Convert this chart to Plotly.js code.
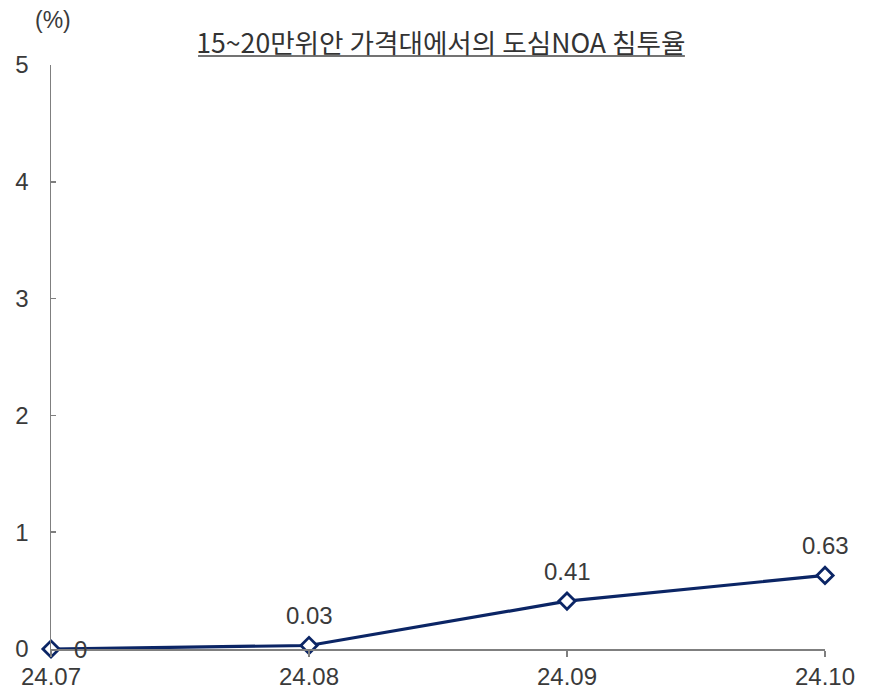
<!DOCTYPE html>
<html>
<head>
<meta charset="utf-8">
<script src="https://cdn.plot.ly/plotly-3.0.1.min.js"></script>
<style>
  html, body { margin: 0; padding: 0; background: #ffffff; }
  #chart { width: 873px; height: 689px; }
</style>
</head>
<body>
<div id="chart"></div>
<script>
// 월별 도심 NOA 침투율 (%)
const months = ['24.07', '24.08', '24.09', '24.10'];
const penetration = [0, 0.03, 0.41, 0.63];
const valueLabels = ['0', '0.03', '0.41', '0.63'];
const yTicks = [0, 1, 2, 3, 4, 5];

const navy = '#0b2565';
const axisGray = '#7f7f7f';
const textGray = '#3a3a3a';

const xIdx = months.map((m, i) => i);

const trace = {
  x: xIdx,
  y: penetration,
  type: 'scatter',
  mode: 'lines+markers',
  line: { color: navy, width: 3.2 },
  marker: { symbol: 'diamond', size: 12.5, color: '#ffffff', line: { color: navy, width: 2.8 } },
  cliponaxis: false,
  hoverinfo: 'skip'
};

// 값 라벨: 첫 점은 오른쪽, 나머지는 점 위쪽
const valueAnnotations = penetration.map((v, i) => ({
  x: xIdx[i], y: v, xref: 'x', yref: 'y',
  text: valueLabels[i],
  showarrow: false,
  xanchor: 'center', yanchor: 'middle',
  xshift: i === 0 ? 29 : 0,
  yshift: i === 0 ? 0 : 30,
  font: { size: 24, color: textGray }
}));

const layout = {
  width: 873,
  height: 689,
  margin: { l: 51, r: 48, t: 65, b: 40 },
  paper_bgcolor: '#ffffff',
  plot_bgcolor: '#ffffff',
  showlegend: false,
  font: { family: 'Liberation Sans, Arial, sans-serif', size: 24, color: textGray },
  title: {
    text: '15~20만위안 가격대에서의 도심NOA 침투율',
    font: { family: 'Noto Sans CJK KR, sans-serif', size: 26.6, color: '#333333' },
    x: 0.505, xanchor: 'center', xref: 'container',
    y: 0.936, yref: 'container', yanchor: 'middle'
  },
  xaxis: {
    range: [0, 3],
    tickmode: 'array',
    tickvals: xIdx,
    ticktext: months,
    showgrid: false,
    zeroline: false,
    showline: true,
    linecolor: axisGray,
    linewidth: 1.5,
    ticks: 'outside',
    ticklen: 6,
    tickwidth: 1.5,
    tickcolor: axisGray,
    ticklabelstandoff: 0,
    tickfont: { size: 24, color: textGray }
  },
  yaxis: {
    range: [0, 5],
    tickmode: 'array',
    tickvals: yTicks,
    ticktext: yTicks.map(String),
    showgrid: false,
    zeroline: false,
    showline: true,
    linecolor: axisGray,
    linewidth: 1.5,
    ticks: 'inside',
    ticklen: 5,
    tickwidth: 1.5,
    tickcolor: axisGray,
    ticklabelstandoff: 16,
    tickfont: { size: 24, color: textGray }
  },
  annotations: [
    {
      text: '(%)', xref: 'paper', yref: 'paper',
      x: 0.0026, y: 1.077, xanchor: 'center', yanchor: 'middle',
      showarrow: false,
      font: { size: 23, color: textGray }
    }
  ].concat(valueAnnotations),
  shapes: [
    {
      type: 'line', xref: 'paper', yref: 'paper',
      x0: 0.19, x1: 0.819, y0: 1.0154, y1: 1.0154,
      line: { color: '#444444', width: 1.5 }
    }
  ]
};

Plotly.newPlot('chart', [trace], layout, { displayModeBar: false, staticPlot: true });
</script>
</body>
</html>
